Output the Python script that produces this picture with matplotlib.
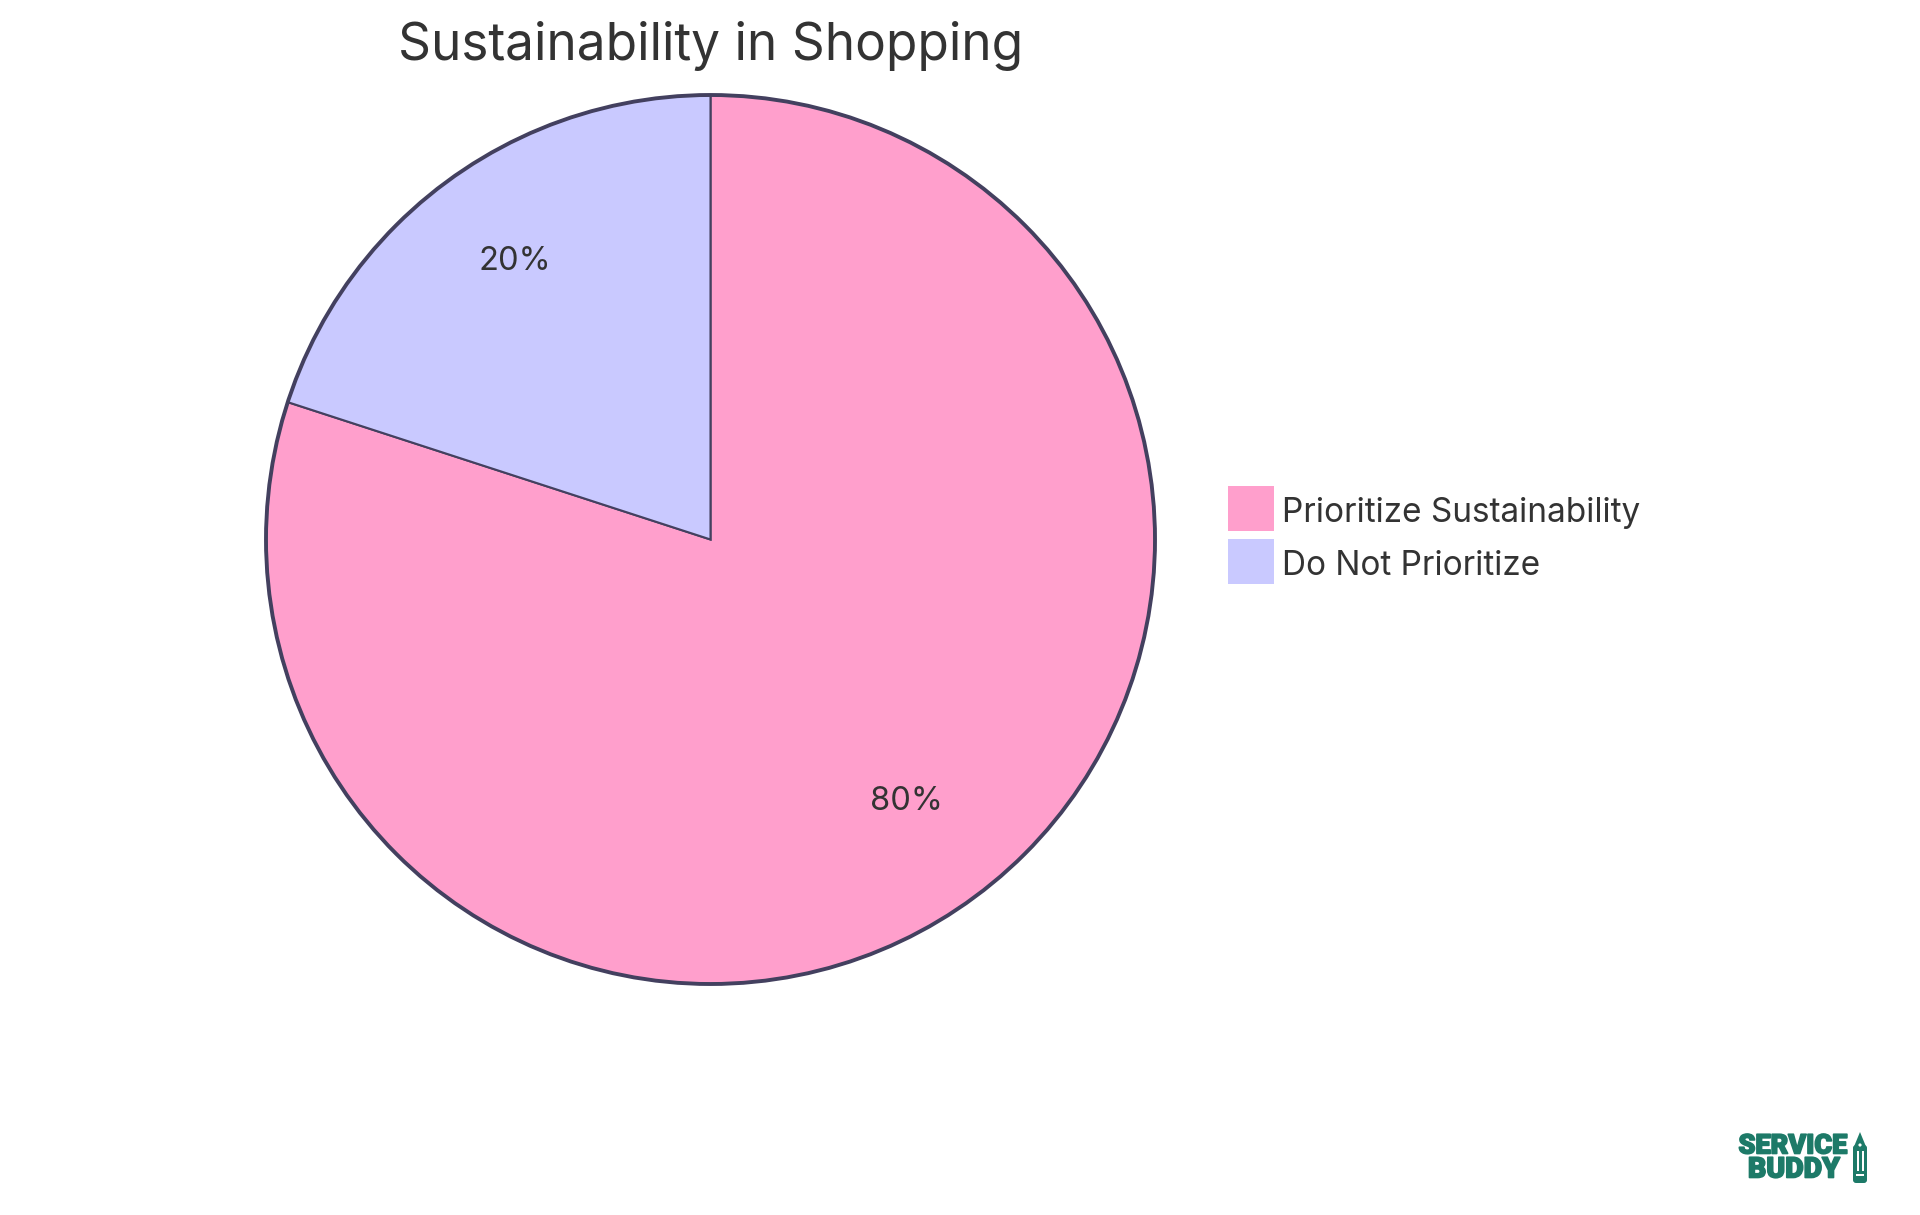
import matplotlib
matplotlib.use('Agg')
import matplotlib.pyplot as plt
import matplotlib.patheffects as pe
from matplotlib.patches import Patch, Polygon, Rectangle, Circle, FancyBboxPatch

labels = ['Prioritize Sustainability', 'Do Not Prioritize']
values = [80, 20]
colors = ['#FF9FCC', '#C9C9FF']
title = 'Sustainability in Shopping'
logo_lines = ['SERVICE', 'BUDDY']

plt.rcParams['font.family'] = ['Inter', 'DejaVu Sans']
ink = '#333333'
edge = '#43405F'
green = '#1D7A68'
H = 1215

fig = plt.figure(figsize=(19.2, 12.15), dpi=100)
ax = fig.add_axes([0, 0, 1, 1])

wedges, texts, autotexts = ax.pie(
    values, colors=colors, startangle=90, counterclock=False,
    center=(710.5, H - 539.5), radius=444.5, autopct='%d%%', pctdistance=0.75,
    wedgeprops={'edgecolor': edge, 'linewidth': 1.5},
    textprops={'fontsize': 23.5, 'color': ink}, frame=True)
# outer ring is heavier than the slice dividers
ax.add_patch(Circle((710.5, H - 539.5), 444.5, fc='none', ec=edge, lw=2.8))
# percent labels sit a little above the arc centroid
for t in autotexts:
    x, y = t.get_position()
    t.set_position((x, y + 8))

ax.set_xlim(0, 1920)
ax.set_ylim(0, H)
ax.set_aspect('equal')
ax.axis('off')

ax.text(710.5, H - 46, title, fontsize=37, color=ink, ha='center', va='center')

handles = [Patch(facecolor=c, edgecolor='none') for c in colors]
leg = ax.legend(handles, labels, loc='upper left', bbox_to_anchor=(1228 / 1920, 1 - 485.5 / H),
                frameon=False, fontsize=24, labelcolor=ink, borderpad=0, borderaxespad=0,
                handlelength=1.37, handleheight=1.725, handletextpad=0.26, labelspacing=0.225)
for t in leg.get_texts():
    t.set_position((0, -2.5))

# logo
stroke = [pe.withStroke(linewidth=1.2, foreground=green)]
ax.text(1793, H - 1146, logo_lines[0], fontsize=19.5, fontweight='black', family='Roboto',
        color=green, ha='center', va='center', path_effects=stroke)
ax.text(1794, H - 1170, logo_lines[1], fontsize=20.5, fontweight='black', family='Roboto',
        color=green, ha='center', va='center', path_effects=stroke)
ax.add_patch(Polygon([(1853, H - 1149), (1867, H - 1149), (1860, H - 1132)], fc=green, ec='none'))
ax.add_patch(FancyBboxPatch((1856, H - 1180), 8, 32, boxstyle='round,pad=3', fc=green, ec='none'))
ax.add_patch(Circle((1860, H - 1145), 1.6, fc='white', ec='none'))
ax.add_patch(Rectangle((1856.5, H - 1171), 2, 20, fc='white', ec='none'))
ax.add_patch(Rectangle((1861.5, H - 1171), 2, 20, fc='white', ec='none'))
ax.add_patch(Rectangle((1856, H - 1176), 8, 2, fc='white', ec='none'))

fig.savefig('out.png', dpi=100, facecolor='white')
